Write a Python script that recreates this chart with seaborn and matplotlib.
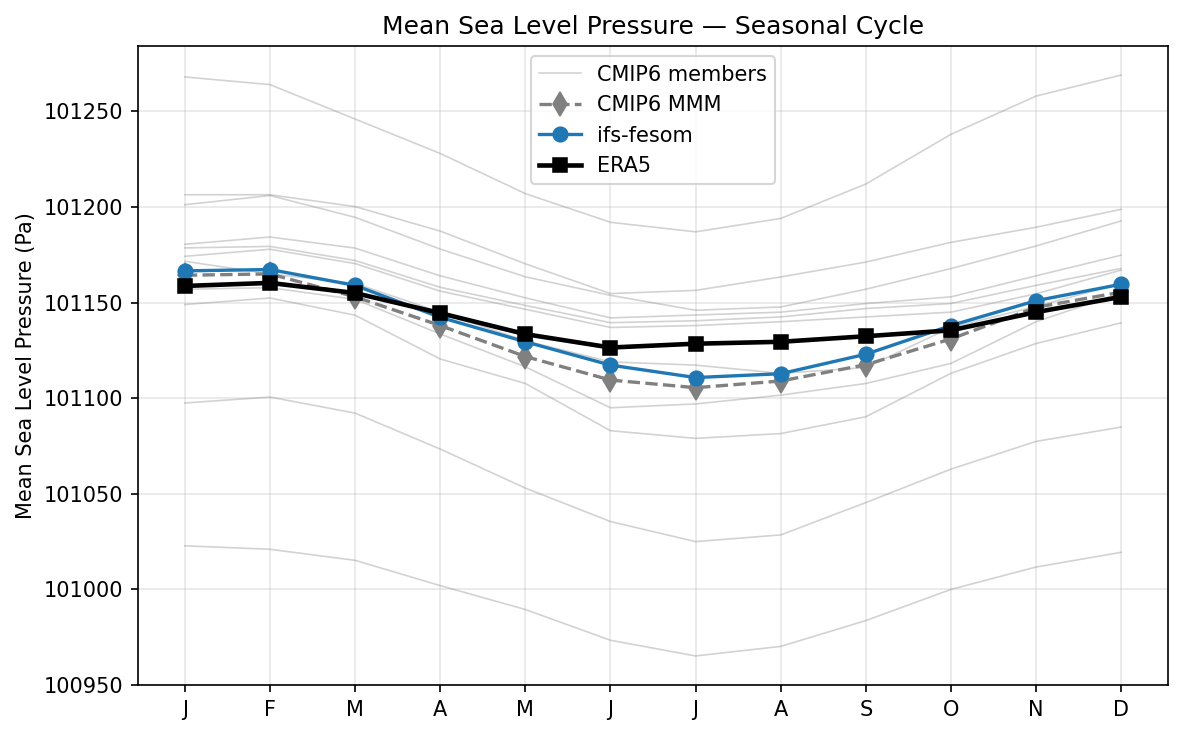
import numpy as np
import pandas as pd
import matplotlib
matplotlib.use("Agg")
import matplotlib.pyplot as plt
import seaborn as sns

# month labels
months = ["J", "F", "M", "A", "M", "J", "J", "A", "S", "O", "N", "D"]

# CMIP6 individual members (Pa)
members = [
    [101268, 101264, 101246, 101228, 101207, 101192, 101187, 101194, 101212, 101238, 101258, 101269],
    [101206.4, 101206.4, 101200.2, 101187.4, 101170.3, 101154.7, 101156.4, 101163.4, 101171.2, 101181.5, 101189.4, 101198.8],
    [101201.2, 101206.0, 101194.6, 101178.0, 101163.5, 101153.8, 101146.0, 101147.7, 101157.0, 101167.8, 101179.6, 101192.7],
    [101180.5, 101184.3, 101178.5, 101164.0, 101152.5, 101142.0, 101143.5, 101145.0, 101149.5, 101153.0, 101164.0, 101174.8],
    [101178.6, 101179.4, 101172.0, 101158.0, 101148.5, 101139.5, 101140.5, 101142.5, 101146.9, 101149.5, 101159.0, 101167.9],
    [101174.2, 101177.9, 101170.4, 101156.0, 101146.5, 101137.0, 101138.0, 101140.0, 101142.5, 101145.0, 101154.6, 101167.0],
    [101171.6, 101165.0, 101160.0, 101145.0, 101130.0, 101119.0, 101117.3, 101113.0, 101116.0, 101137.0, 101148.0, 101160.0],
    [101157.0, 101157.8, 101151.7, 101133.6, 101116.4, 101095.0, 101097.0, 101101.6, 101107.7, 101118.2, 101140.0, 101155.0],
    [101149.0, 101152.4, 101143.4, 101120.5, 101107.7, 101083.0, 101079.0, 101081.5, 101090.3, 101113.0, 101128.6, 101139.4],
    [101097.5, 101100.6, 101092.2, 101073.4, 101053.0, 101035.5, 101025.0, 101028.5, 101045.4, 101062.9, 101077.4, 101084.9],
    [101022.8, 101021.0, 101015.2, 101002.0, 100989.5, 100973.4, 100965.2, 100970.2, 100983.7, 101000.0, 101011.7, 101019.4],
]

cmip6_mmm = [101164.3, 101165.0, 101153.0, 101138.0, 101121.8, 101109.5, 101105.5, 101109.0, 101117.5, 101131.0, 101147.5, 101155.5]
ifs_fesom = [101166.6, 101167.3, 101159.0, 101142.3, 101129.5, 101117.3, 101110.8, 101112.8, 101123.0, 101138.0, 101151.0, 101159.6]
era5 = [101158.7, 101160.3, 101155.0, 101144.5, 101133.5, 101126.5, 101128.5, 101129.5, 101132.4, 101135.5, 101145.0, 101153.0]

x = np.arange(len(months))

fig, ax = plt.subplots(figsize=(1183 / 150, 735 / 150), dpi=150)
fig.subplots_adjust(left=0.1167, right=0.9873, top=0.9374, bottom=0.068)

# members
for i, m in enumerate(members):
    sns.lineplot(x=x, y=m, ax=ax, color="grey", alpha=0.35, linewidth=0.8,
                 label="CMIP6 members" if i == 0 else None, legend=False)

sns.lineplot(x=x, y=cmip6_mmm, ax=ax, color="grey", linestyle="--", linewidth=1.6,
             marker="d", markersize=8, markeredgecolor="grey", label="CMIP6 MMM", legend=False)
sns.lineplot(x=x, y=ifs_fesom, ax=ax, color="#1f77b4", linewidth=1.6,
             marker="o", markersize=7, markeredgecolor="#1f77b4", label="ifs-fesom", legend=False)
sns.lineplot(x=x, y=era5, ax=ax, color="black", linewidth=2.2,
             marker="s", markersize=7, markeredgecolor="black", label="ERA5", legend=False)

ax.set_xticks(x)
ax.set_xticklabels(months)
ax.set_ylim(bottom=100950)
ax.ticklabel_format(axis="y", useOffset=False, style="plain")
ax.grid(True, alpha=0.3)
ax.set_title("Mean Sea Level Pressure \u2014 Seasonal Cycle")
ax.set_ylabel("Mean Sea Level Pressure (Pa)")
ax.set_xlabel("")
ax.legend(loc="upper center")

fig.savefig("out.png", dpi=150)
